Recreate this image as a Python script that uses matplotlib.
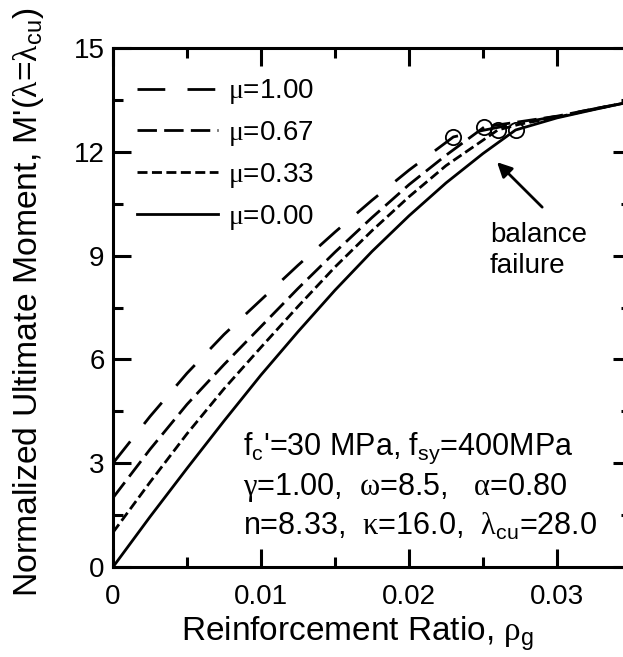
import numpy as np
import matplotlib
matplotlib.use("Agg")
import matplotlib.pyplot as plt

plt.rcParams["font.family"] = ["Liberation Sans", "DejaVu Sans"]
plt.rcParams["mathtext.fontset"] = "custom"
plt.rcParams["mathtext.rm"] = "Liberation Sans"
plt.rcParams["mathtext.it"] = "Liberation Sans"
plt.rcParams["mathtext.sf"] = "Liberation Sans"
plt.rcParams["mathtext.bf"] = "Liberation Serif"   # used for the greek letters

# reinforcement ratio / normalized moment for each mu
rho_m100 = [0, 0.0025, 0.005, 0.0075, 0.01, 0.0125, 0.015, 0.0175, 0.02, 0.023,
            0.025, 0.0275, 0.03, 0.0325, 0.035]
m_m100 = [3.0, 4.35, 5.6, 6.72, 7.72, 8.72, 9.68, 10.6, 11.47, 12.43,
          12.62, 12.83, 13.03, 13.24, 13.45]

rho_m067 = [0, 0.0025, 0.005, 0.0075, 0.01, 0.0125, 0.015, 0.0175, 0.02, 0.0225,
            0.0251, 0.0275, 0.03, 0.0325, 0.035]
m_m067 = [2.0, 3.4, 4.7, 5.85, 6.95, 8.05, 9.1, 10.1, 11.05, 11.9,
          12.72, 12.87, 13.03, 13.24, 13.45]

rho_m033 = [0, 0.0025, 0.005, 0.0075, 0.01, 0.0125, 0.015, 0.0175, 0.02, 0.0225,
            0.026, 0.0275, 0.03, 0.0325, 0.035]
m_m033 = [1.0, 2.45, 3.85, 5.15, 6.35, 7.53, 8.67, 9.72, 10.7, 11.6,
          12.63, 12.8, 13.0, 13.23, 13.45]

rho_m000 = [0, 0.0025, 0.005, 0.0075, 0.01, 0.0125, 0.015, 0.0175, 0.02, 0.0225,
            0.025, 0.0272, 0.03, 0.0325, 0.035]
m_m000 = [0.0, 1.45, 2.85, 4.22, 5.55, 6.8, 8.0, 9.12, 10.15, 11.1,
          11.95, 12.63, 12.98, 13.22, 13.45]

# balance failure points
bal_rho = [0.023, 0.0251, 0.026, 0.0272]
bal_m = [12.43, 12.72, 12.63, 12.63]

labels = [r"$\mathbf{μ}$=1.00", r"$\mathbf{μ}$=0.67", r"$\mathbf{μ}$=0.33", r"$\mathbf{μ}$=0.00"]
dashes = [(10, 8), (7, 2.6), (3.6, 1.6), None]

fig = plt.figure(figsize=(6.23, 6.57), dpi=100)
ax = fig.add_axes([113 / 623, 90 / 657, 518 / 623, 519 / 657])

series = [(rho_m100, m_m100), (rho_m067, m_m067), (rho_m033, m_m033), (rho_m000, m_m000)]
for (x, y), lab, d in zip(series, labels, dashes):
    if d is None:
        ax.plot(x, y, color="black", lw=2.0, label=lab)
    else:
        ax.plot(x, y, color="black", lw=2.0, dashes=d, label=lab)

ax.plot(bal_rho, bal_m, linestyle="none", marker="o", ms=11, mfc="none",
        mec="black", mew=1.3)

ax.set_xlim(0, 0.035)
ax.set_ylim(0, 15)
ax.set_xticks([0, 0.01, 0.02, 0.03])
ax.set_xticklabels(["0", "0.01", "0.02", "0.03"])
ax.set_xticks(np.arange(0.005, 0.035, 0.01), minor=True)
ax.set_yticks([0, 3, 6, 9, 12, 15])
ax.set_yticks(np.arange(1.5, 15, 3), minor=True)
ax.tick_params(which="both", direction="in", top=True, right=True, width=2.2,
               labelsize=20)
ax.tick_params(axis="x", which="both", pad=12.5)
ax.tick_params(axis="y", which="both", pad=6)
ax.tick_params(which="major", length=13)
ax.tick_params(which="minor", length=7)
for s in ax.spines.values():
    s.set_linewidth(2.2)

ax.set_xlabel(r"Reinforcement Ratio, $\mathbf{ρ}_g$", fontsize=24)
ax.xaxis.label.set_va("baseline")
ax.xaxis.set_label_coords(0.473, -0.1426)
ax.set_ylabel(r"Normalized Ultimate Moment, M'($\mathbf{λ}$=$\mathbf{λ}_{cu}$)", fontsize=24.3)
ax.yaxis.set_label_coords(-0.129, 0.51)

ax.legend(loc="upper left", bbox_to_anchor=(0.025, 0.965), frameon=False,
          fontsize=20, handlelength=2.9, handletextpad=0.36, labelspacing=0.46,
          borderaxespad=0)

ax.annotate("", xy=(0.02595, 11.7), xytext=(0.0290, 10.4),
            arrowprops=dict(arrowstyle="-|>", color="black", lw=2.0,
                            mutation_scale=22, shrinkA=0, shrinkB=0))
ax.text(0.02547, 8.5, "balance\nfailure", fontsize=20, ha="left", va="baseline",
        linespacing=1.25)

ax.text(0.00878, 3.24, "f$_c$'=30 MPa, f$_{sy}$=400MPa", fontsize=22, va="baseline")
ax.text(0.00878, 2.08, r"$\mathbf{γ}$=1.00,  $\mathbf{ω}$=8.5,   $\mathbf{α}$=0.80",
        fontsize=22, va="baseline")
ax.text(0.00878, 0.92, r"n=8.33,  $\mathbf{κ}$=16.0,  $\mathbf{λ}_{cu}$=28.0",
        fontsize=22, va="baseline")

fig.savefig("out.png", dpi=100)
